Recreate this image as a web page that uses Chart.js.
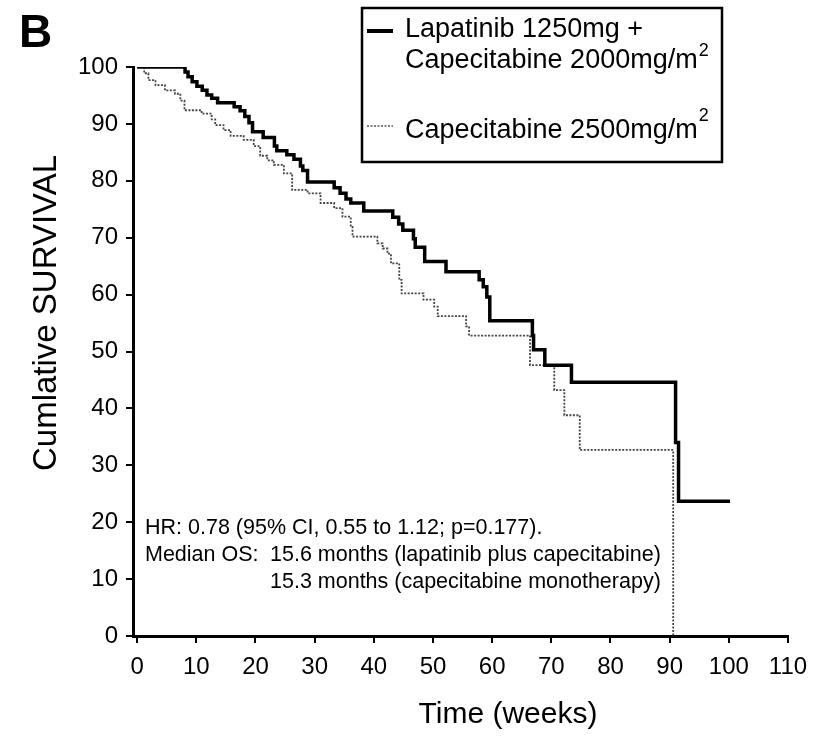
<!DOCTYPE html>
<html>
<head>
<meta charset="utf-8">
<style>
  html, body { margin: 0; padding: 0; background: #fff; }
  #wrap { width: 819px; height: 739px; }
</style>
</head>
<body>
<div id="wrap"><canvas id="kmChart"></canvas></div>
<script src="https://cdn.jsdelivr.net/npm/chart.js@4/dist/chart.umd.min.js"></script>
<script>
// Overall survival (Kaplan-Meier)
// weeks / cumulative survival (%)

const comboWeeks = [0, 8.1, 8.6, 9.3, 10.1, 11.0, 11.8, 12.6, 13.6, 16.4, 17.4, 18.2, 18.9, 19.5,
    21.3, 23.2, 23.6, 25.3, 26.5, 27.6, 28.0, 28.8, 33.3, 34.3, 35.3, 36.1, 38.3, 43.2, 44.2,
    44.9, 46.7, 47.0, 48.6, 52.2, 57.8, 58.5, 59.1, 59.6, 66.8, 67.0, 68.9, 73.4, 91.0, 91.5, 100.2];
const comboSurvival = [100, 99.1, 98.3, 97.4, 96.6, 95.9, 95.1, 94.5, 93.7, 93.0, 92.3, 91.3, 90.2, 88.6,
    87.6, 86.1, 85.3, 84.6, 83.8, 82.6, 81.8, 79.8, 78.8, 77.8, 76.8, 76.1, 74.7, 73.6, 72.4,
    71.3, 69.8, 68.3, 65.8, 64.0, 62.6, 61.4, 59.6, 55.4, 52.8, 50.3, 47.6, 44.6, 34.0, 23.7, 23.7];

const monoWeeks = [0, 1.2, 1.9, 3.1, 4.7, 6.4, 7.3, 8.0, 10.9, 12.6, 13.2, 14.6, 15.8, 18.0, 19.7,
    20.8, 22.0, 23.1, 24.8, 26.2, 28.8, 31.0, 33.3, 34.7, 36.1, 36.4, 40.6, 41.5, 42.3, 42.9,
    44.3, 44.7, 48.4, 50.2, 50.8, 55.6, 56.1, 66.4, 70.5, 72.2, 74.8, 90.6];
const monoSurvival = [100, 98.9, 97.7, 96.8, 95.9, 95.3, 94.1, 92.4, 91.8, 90.8, 89.8, 88.9, 87.9, 87.2, 86.1,
    84.4, 83.6, 82.8, 81.3, 78.4, 77.8, 76.1, 75.2, 73.7, 71.9, 70.2, 69.0, 68.1, 67.2, 65.5,
    62.6, 60.2, 59.1, 57.9, 56.2, 54.4, 52.8, 47.6, 43.2, 38.8, 32.7, 0];

const xTicks = [0, 10, 20, 30, 40, 50, 60, 70, 80, 90, 100, 110];
const yTicks = [0, 10, 20, 30, 40, 50, 60, 70, 80, 90, 100];

const seriesNames = ['Lapatinib 1250mg + Capecitabine 2000mg/m²', 'Capecitabine 2500mg/m²'];
const legendLines = ['Lapatinib 1250mg +', 'Capecitabine 2000mg/m', 'Capecitabine 2500mg/m'];
const noteLines = ['HR: 0.78 (95% CI, 0.55 to 1.12; p=0.177).', 'Median OS:',
    '15.6 months (lapatinib plus capecitabine)', '15.3 months (capecitabine monotherapy)'];

const FONT = '"Liberation Sans", Arial, Helvetica, sans-serif';

function toPoints(xs, ys) {
    return xs.map((x, i) => ({ x: x, y: ys[i] }));
}

// legend box, panel letter, axis titles and the HR note
const overlayPlugin = {
    id: 'overlay',
    afterDraw(chart) {
        const ctx = chart.ctx;
        ctx.save();
        ctx.fillStyle = '#000';
        ctx.strokeStyle = '#000';

        ctx.font = 'bold 46px ' + FONT;
        ctx.textAlign = 'left';
        ctx.textBaseline = 'alphabetic';
        ctx.fillText('B', 19, 47);

        // axis titles
        ctx.font = '30px ' + FONT;
        ctx.textAlign = 'center';
        ctx.fillText('Time (weeks)', 508, 723);
        ctx.save();
        ctx.translate(47, 313);
        ctx.rotate(-Math.PI / 2);
        ctx.textBaseline = 'middle';
        ctx.font = '33px ' + FONT;
        ctx.fillText('Cumlative SURVIVAL', 0, 0);
        ctx.restore();

        // legend
        ctx.lineWidth = 2.5;
        ctx.strokeRect(362, 8, 360, 154);
        ctx.lineWidth = 4;
        ctx.beginPath();
        ctx.moveTo(367, 31);
        ctx.lineTo(393, 31);
        ctx.stroke();
        ctx.lineWidth = 1.5;
        ctx.strokeStyle = '#555';
        ctx.setLineDash([2, 1.5]);
        ctx.beginPath();
        ctx.moveTo(367, 126);
        ctx.lineTo(393, 126);
        ctx.stroke();
        ctx.setLineDash([]);

        ctx.textAlign = 'left';
        ctx.font = '27px ' + FONT;
        ctx.fillText(legendLines[0], 405, 37);
        ctx.fillText(legendLines[1], 405, 68);
        ctx.fillText(legendLines[2], 405, 138);
        const w2 = ctx.measureText(legendLines[1]).width;
        const w3 = ctx.measureText(legendLines[2]).width;
        ctx.font = '18px ' + FONT;
        ctx.fillText('2', 405 + w2 + 1, 56);
        ctx.fillText('2', 405 + w3 + 1, 121);

        // note
        ctx.font = '21.5px ' + FONT;
        ctx.fillText(noteLines[0], 145, 534);
        ctx.fillText(noteLines[1], 145, 561);
        ctx.fillText(noteLines[2], 270, 561);
        ctx.fillText(noteLines[3], 270, 588);

        ctx.restore();
    }
};

new Chart(document.getElementById('kmChart'), {
    type: 'line',
    data: {
        datasets: [
            {
                label: seriesNames[0],
                data: toPoints(comboWeeks, comboSurvival),
                borderColor: '#000',
                borderWidth: 3.5,
                stepped: true,
                pointRadius: 0,
                fill: false
            },
            {
                label: seriesNames[1],
                data: toPoints(monoWeeks, monoSurvival),
                borderColor: '#444',
                borderWidth: 1.8,
                borderDash: [2, 1.5],
                stepped: true,
                pointRadius: 0,
                fill: false
            }
        ]
    },
    options: {
        responsive: true,
        maintainAspectRatio: false,
        animation: false,
        layout: {
            padding: { left: 0, top: 67, right: 31, bottom: 0 }
        },
        plugins: {
            legend: { display: false },
            tooltip: { enabled: false }
        },
        scales: {
            x: {
                type: 'linear',
                min: -0.7,
                max: 110,
                afterBuildTicks: (axis) => { axis.ticks = xTicks.map(v => ({ value: v })); },
                afterFit: (axis) => { axis.height = 103; },
                grid: {
                    drawOnChartArea: false,
                    drawTicks: true,
                    tickLength: 7,
                    color: '#000',
                    lineWidth: 2
                },
                border: { display: true, color: '#000', width: 3 },
                ticks: {
                    color: '#000',
                    padding: 10,
                    maxRotation: 0,
                    autoSkip: false,
                    font: { family: FONT, size: 24 }
                }
            },
            y: {
                type: 'linear',
                min: 0,
                max: 100,
                afterBuildTicks: (axis) => { axis.ticks = yTicks.map(v => ({ value: v })); },
                afterFit: (axis) => { axis.width = 133; },
                grid: {
                    drawOnChartArea: false,
                    drawTicks: true,
                    tickLength: 7,
                    color: '#000',
                    lineWidth: 2
                },
                border: { display: true, color: '#000', width: 3 },
                ticks: {
                    color: '#000',
                    padding: 8,
                    autoSkip: false,
                    font: { family: FONT, size: 24 }
                }
            }
        }
    },
    plugins: [overlayPlugin]
});
</script>
</body>
</html>
